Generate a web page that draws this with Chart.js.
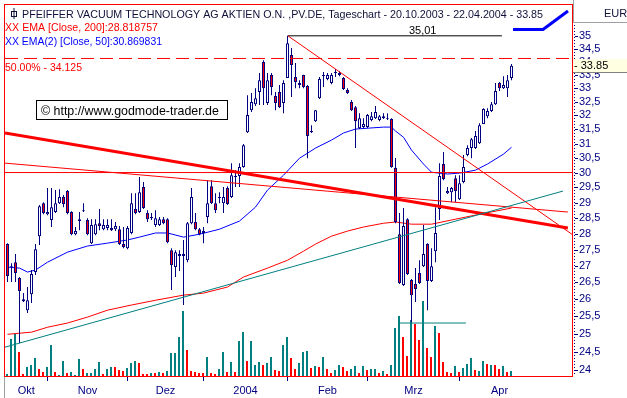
<!DOCTYPE html>
<html lang="de">

<head>
    <meta charset="UTF-8">
    <title>Pfeiffer Vacuum - Tageschart</title>
    <script src="https://cdn.jsdelivr.net/npm/chart.js"></script>
    <style>
        html, body {
            margin: 0;
            padding: 0;
            background: #fff;
        }
        canvas {
            display: block;
        }
    </style>
</head>

<body>
    <canvas id="chart" width="627" height="398"></canvas>

    <script>
        // one entry per trading day, index 0 = 20.10.2003
        const opens = [27.67, 26.96, 27.11, 26.63, 25.94, 25.68, 26.15, 26.81, 27.92, 28.98,
            28.62, 28.43, 28.69, 28.98, 29.18, 29.38, 28.69, 27.98, 28.40, 28.72,
            28.43, 27.70, 27.98, 28.33, 28.14, 28.18, 28.18, 28.14, 28.14, 27.67,
            27.54, 28.02, 28.79, 28.69, 29.51, 28.66, 28.49, 28.27, 28.27, 28.46,
            28.46, 27.48, 26.96, 27.36, 27.30, 27.17, 28.33, 28.37, 28.14, 28.02,
            28.53, 29.54, 28.98, 29.15, 28.98, 29.48, 29.18, 29.85, 29.88, 30.19,
            31.40, 32.19, 32.41, 32.86, 33.99, 32.45, 33.49, 32.71, 32.86, 32.45,
            33.38, 34.26, 33.42, 33.12, 33.49, 33.08, 31.40, 31.79, 32.63, 33.45,
            33.34, 33.19, 33.57, 33.49, 33.38, 32.93, 32.49, 32.30, 31.54, 31.58,
            31.58, 31.83, 31.90, 31.83, 31.90, 31.87, 31.87, 30.16, 27.98, 26.42,
            28.46, 26.57, 26.45, 26.78, 26.99, 27.67, 26.54, 27.45, 28.79, 30.29,
            29.31, 29.34, 29.81, 29.11, 29.68, 30.60, 30.84, 30.84, 31.01, 31.69,
            31.97, 32.16, 32.41, 33.19, 33.00, 33.00, 33.38];
        const highs = [27.70, 27.08, 27.36, 26.66, 26.18, 26.36, 26.87, 27.67, 28.92, 29.01,
            29.48, 29.48, 29.41, 29.44, 29.25, 29.41, 28.72, 28.21, 28.69, 28.98,
            28.49, 28.46, 28.46, 28.79, 28.46, 28.46, 28.46, 28.37, 28.24, 28.21,
            28.24, 29.31, 29.31, 29.85, 29.68, 28.75, 28.66, 28.75, 28.53, 28.53,
            28.49, 27.54, 27.48, 27.48, 27.80, 28.37, 29.48, 28.66, 28.18, 28.21,
            29.74, 29.74, 29.31, 29.34, 29.51, 29.54, 30.32, 30.08, 30.32, 30.98,
            32.74, 32.82, 33.00, 33.57, 34.06, 33.57, 33.57, 32.86, 33.12, 33.30,
            35.01, 34.53, 33.95, 33.30, 33.50, 33.12, 31.65, 32.20, 33.42, 33.61,
            33.57, 33.57, 33.72, 33.65, 33.42, 33.00, 32.56, 32.34, 32.08, 31.90,
            32.05, 32.12, 32.34, 32.01, 32.08, 32.08, 31.90, 30.50, 28.66, 28.82,
            28.49, 26.60, 26.93, 27.17, 28.27, 27.70, 27.54, 28.85, 30.32, 30.70,
            29.51, 29.51, 29.91, 29.91, 30.60, 30.94, 31.19, 31.44, 31.72, 32.26,
            32.26, 32.49, 33.19, 33.23, 33.45, 33.49, 33.91];
        const lows = [26.51, 26.51, 26.51, 24.74, 25.92, 25.60, 25.89, 26.72, 27.64, 28.62,
            28.59, 28.21, 28.66, 28.95, 28.85, 28.62, 27.95, 27.95, 28.11, 28.69,
            27.95, 27.67, 27.95, 28.11, 28.11, 28.11, 28.08, 28.08, 27.64, 27.54,
            27.51, 27.98, 28.62, 28.66, 28.79, 28.37, 28.43, 28.21, 28.24, 28.30,
            27.70, 26.27, 26.66, 26.84, 25.83, 27.11, 28.30, 28.11, 27.95, 27.70,
            28.33, 28.95, 28.66, 28.98, 28.66, 28.92, 29.15, 29.51, 29.51, 30.16,
            31.37, 32.12, 32.34, 32.38, 32.38, 32.38, 32.74, 32.19, 32.27, 32.08,
            33.38, 32.67, 33.00, 33.00, 33.00, 30.49, 31.37, 31.76, 32.60, 33.04,
            33.30, 33.15, 33.42, 33.45, 32.93, 32.78, 32.16, 30.84, 31.51, 31.54,
            31.54, 31.79, 31.87, 31.79, 31.87, 31.83, 30.16, 28.33, 26.45, 26.39,
            26.72, 25.32, 25.92, 26.45, 26.96, 25.68, 26.51, 27.11, 28.43, 29.74,
            29.28, 29.01, 29.01, 29.08, 29.64, 30.56, 30.49, 30.81, 30.98, 31.69,
            31.90, 32.12, 32.38, 32.89, 32.97, 32.67, 33.30];
        const closes = [26.69, 26.99, 26.78, 26.24, 26.00, 25.97, 26.75, 27.51, 28.88, 28.66,
            28.69, 28.85, 28.98, 29.18, 28.95, 28.66, 27.98, 28.08, 28.46, 28.75,
            27.98, 28.27, 28.30, 28.24, 28.27, 28.27, 28.11, 28.24, 27.67, 27.58,
            28.18, 28.98, 28.66, 29.34, 28.82, 28.46, 28.53, 28.49, 28.46, 28.33,
            27.73, 27.02, 27.42, 27.30, 27.36, 28.33, 29.18, 28.14, 27.98, 28.08,
            28.98, 28.98, 28.75, 29.18, 29.18, 28.95, 29.91, 29.88, 30.19, 30.94,
            32.01, 32.49, 32.63, 33.30, 33.00, 33.30, 33.04, 32.45, 32.30, 33.19,
            34.72, 33.87, 33.23, 33.19, 33.04, 31.26, 31.44, 32.19, 33.34, 33.49,
            33.49, 33.49, 33.61, 33.57, 32.97, 32.82, 32.19, 31.79, 31.90, 31.69,
            32.01, 31.97, 32.12, 31.97, 31.97, 31.90, 30.19, 28.37, 26.48, 28.24,
            26.75, 26.12, 26.30, 26.48, 27.36, 26.54, 26.99, 28.02, 29.88, 29.78,
            29.38, 29.48, 29.38, 29.64, 30.19, 30.84, 31.15, 31.26, 31.65, 32.23,
            32.16, 32.41, 32.89, 33.00, 33.12, 33.30, 33.85];

        // volume in relative units (no scale shown), 1 = teal bar, 0 = red bar
        const volumes = [2, 37, 42, 24, 2, 9, 11, 18, 7, 4,
            9, 31, 4, 1, 15, 3, 4, 1, 17, 7,
            3, 3, 7, 14, 2, 7, 9, 9, 6, 5,
            8, 13, 15, 13, 2, 2, 3, 3, 4, 3,
            5, 23, 23, 39, 65, 26, 5, 4, 3, 3,
            19, 3, 2, 7, 24, 4, 14, 4, 35, 44,
            15, 35, 11, 14, 11, 13, 19, 6, 5, 31,
            39, 18, 7, 13, 24, 25, 8, 10, 9, 19,
            7, 3, 6, 11, 9, 5, 7, 10, 3, 10,
            6, 7, 7, 3, 5, 2, 11, 48, 60, 39,
            20, 56, 52, 36, 75, 28, 19, 50, 43, 14,
            4, 3, 10, 4, 8, 12, 18, 6, 5, 15,
            12, 11, 11, 7, 10, 4, 5];
        const volumeUp = [1, 1, 1, 0, 0, 1, 1, 1, 0, 0,
            1, 1, 0, 1, 1, 0, 1, 1, 1, 0,
            1, 1, 1, 1, 0, 1, 1, 0, 0, 0,
            1, 1, 1, 0, 0, 0, 1, 0, 1, 0,
            1, 1, 1, 1, 1, 0, 0, 0, 0, 0,
            1, 0, 0, 1, 1, 0, 1, 0, 1, 1,
            0, 1, 1, 1, 0, 1, 1, 0, 0, 1,
            1, 0, 0, 1, 1, 1, 0, 1, 0, 1,
            0, 0, 1, 1, 0, 0, 1, 1, 0, 1,
            0, 1, 1, 0, 1, 0, 1, 1, 1, 0,
            0, 1, 0, 0, 1, 0, 0, 1, 0, 0,
            0, 0, 1, 0, 1, 1, 1, 0, 1, 1,
            0, 1, 0, 0, 1, 0, 1];

        // moving averages at a few days
        const ema200Idx = [0, 3, 6, 10, 15, 20, 25, 31, 37, 44, 49, 55, 59, 65, 70, 74, 77, 81, 85, 89, 94, 97, 101, 106, 112, 118, 126];
        const ema200Val = [24.99, 25.02, 25.05, 25.19, 25.31, 25.48, 25.68, 25.83, 25.97, 26.12, 26.18, 26.36, 26.66, 26.93,
            27.17, 27.45, 27.67, 27.92, 28.08, 28.21, 28.33, 28.37, 28.30, 28.30, 28.46, 28.62, 28.82];
        const ema50Idx = [0, 3, 5, 7, 10, 15, 20, 25, 30, 33, 37, 40, 44, 48, 53, 58, 62, 65, 69, 73,
            77, 81, 84, 87, 90, 94, 96, 97, 99, 101, 104, 106, 110, 113, 117, 120, 124, 126];
        const ema50Val = [26.96, 26.93, 26.81, 26.87, 27.11, 27.42, 27.61, 27.70, 27.80, 27.89,
            28.02, 28.02, 27.89, 27.98, 28.14, 28.40, 28.85, 29.41, 29.91, 30.49,
            30.84, 31.12, 31.37, 31.51, 31.54, 31.58, 31.58, 31.44, 31.22, 30.77,
            30.29, 30.01, 29.95, 29.98, 30.08, 30.29, 30.63, 30.87];

        // drawn lines: [day, price] end points
        const tealTrend = [[-0.625, 24.63], [138.9, 29.38]];
        const thickRedTrend = [[-0.625, 31.37], [140.1, 28.18]];
        const thinRedTrend = [[-0.625, 30.32], [140.1, 28.69]];
        const downTrend = [[70.1, 35.01], [141.1, 27.98]];
        const line30 = [[-0.625, 30], [141.125, 30]];
        const line50pct = [[-0.625, 34.125], [141.125, 34.125]];
        const highLine = [[70.1, 35.01], [123.6, 35.01]];
        const lowLine = [[98.1, 25.31], [114.6, 25.31]];

        const monthTicks = [10, 30, 49, 70, 90, 113];
        const monthLabelPos = [4.7, 20, 39.5, 59.5, 80, 101.5, 123];
        const monthLabels = ['Okt', 'Nov', 'Dez', '2004', 'Feb', 'Mrz', 'Apr'];
        const priceTicks = [35, 34.5, 34, 33.5, 33, 32.5, 32, 31.5, 31, 30.5, 30, 29.5, 29, 28.5, 28, 27.5, 27, 26.5, 26, 25.5, 25, 24.5, 24];

        const xMin = -0.625;
        const xMax = 141.125;
        const yMin = 23.84;
        const yMax = 36.25;

        const navy = '#000080';
        const red = '#ff0000';
        const teal = '#008080';
        const font = '"Liberation Sans", Arial, sans-serif';

        function lineSet(points, color, width, order, dash) {
            return {
                type: 'line',
                data: points.map(p => ({ x: p[0], y: p[1] })),
                borderColor: color,
                borderWidth: width,
                borderDash: dash || [],
                pointRadius: 0,
                fill: false,
                tension: 0,
                order: order
            };
        }

        const decor = {
            id: 'decor',
            beforeDraw(chart) {
                const ctx = chart.ctx;
                ctx.save();
                ctx.fillStyle = '#fff';
                ctx.fillRect(0, 0, chart.width, chart.height);
                ctx.restore();
            },
            afterDraw(chart) {
                const { ctx, chartArea: a, scales } = chart;
                const x = scales.x, y = scales.y;
                ctx.save();

                // axis labels end where the price area ends
                ctx.fillStyle = '#fff';
                ctx.fillRect(a.right + 1, a.bottom - 3, chart.width - a.right, 30);

                // frames
                ctx.strokeStyle = '#a0a0a0';
                ctx.lineWidth = 1;
                ctx.beginPath();
                ctx.moveTo(a.right + 1.5, 0);
                ctx.lineTo(a.right + 1.5, 22.5);
                ctx.lineTo(chart.width, 22.5);
                ctx.moveTo(a.left - 0.5, a.bottom);
                ctx.lineTo(a.left - 0.5, chart.height);
                ctx.stroke();

                ctx.strokeStyle = red;
                ctx.strokeRect(a.left - 0.5, a.top - 0.5, a.right - a.left + 1, a.bottom - a.top + 1);

                // dotted price axis with small tick dashes
                ctx.strokeStyle = navy;
                ctx.setLineDash([1, 2]);
                ctx.beginPath();
                ctx.moveTo(a.right + 2.5, 25);
                ctx.lineTo(a.right + 2.5, a.bottom - 1);
                ctx.stroke();
                ctx.setLineDash([]);
                ctx.beginPath();
                priceTicks.forEach(v => {
                    const py = Math.round(y.getPixelForValue(v)) + 0.5;
                    if (py < a.bottom - 3) {
                        ctx.moveTo(a.right + 3, py);
                        ctx.lineTo(a.right + 6, py);
                    }
                });
                ctx.stroke();

                // last price marker
                const last = closes[closes.length - 1];
                const ly = y.getPixelForValue(last);
                ctx.fillStyle = '#ffffe1';
                ctx.fillRect(a.right + 1, ly - 6.5, chart.width - a.right, 13);
                ctx.strokeStyle = '#808080';
                ctx.beginPath();
                ctx.moveTo(a.right + 1, Math.round(ly + 6.5) + 0.5);
                ctx.lineTo(chart.width, Math.round(ly + 6.5) + 0.5);
                ctx.stroke();
                ctx.fillStyle = '#000';
                ctx.font = '11px ' + font;
                ctx.textBaseline = 'middle';
                ctx.fillText('- ' + last.toFixed(2), a.right + 2, ly + 0.5);

                ctx.textBaseline = 'alphabetic';
                ctx.fillStyle = '#10103a';
                ctx.fillText('EUR', 604, 17);

                // header
                ctx.strokeStyle = '#10103a';
                ctx.strokeRect(11.5, 11.5, 5, 5);
                ctx.beginPath();
                ctx.moveTo(14, 8);
                ctx.lineTo(14, 19);
                ctx.stroke();
                ctx.font = '11px ' + font;
                ctx.fillText('PFEIFFER VACUUM TECHNOLOGY AG AKTIEN O.N. ,PV.DE, Tageschart - 20.10.2003 - 22.04.2004 - 33.85', 22, 18, 521);
                ctx.fillStyle = red;
                ctx.fillText('XX EMA [Close, 200]:28.818757', 5, 31, 153);
                ctx.fillStyle = '#0000ff';
                ctx.fillText('XX EMA(2) [Close, 50]:30.869831', 5, 45, 157);
                ctx.fillStyle = red;
                ctx.fillText('50.00% - 34.125', 5, 71, 77);

                ctx.fillStyle = '#000';
                ctx.textAlign = 'center';
                ctx.fillText('35,01', x.getPixelForValue(103.8), y.getPixelForValue(35.01) - 2);
                ctx.textAlign = 'left';

                // copyright box
                ctx.fillStyle = '#fff';
                ctx.fillRect(36, 100, 191, 19);
                ctx.strokeStyle = '#000';
                ctx.strokeRect(36.5, 100.5, 191, 19);
                ctx.fillStyle = '#000';
                ctx.font = '12.4px ' + font;
                ctx.fillText('\u00a9 http://www.godmode-trader.de', 41, 115);

                // trend symbol top right
                ctx.strokeStyle = '#0000ff';
                ctx.lineWidth = 3;
                ctx.lineJoin = 'round';
                ctx.beginPath();
                ctx.moveTo(513, 29.5);
                ctx.lineTo(543, 29.5);
                ctx.lineTo(568, 11);
                ctx.stroke();

                ctx.restore();
            }
        };

        const chart = new Chart(document.getElementById('chart'), {
            type: 'bar',
            data: {
                datasets: [
                    lineSet(tealTrend, teal, 1, 0),
                    lineSet(thickRedTrend, red, 3, 0),
                    lineSet(thinRedTrend, red, 1, 0),
                    lineSet(downTrend, red, 1, 0),
                    lineSet(line30, red, 1, 0),
                    lineSet(line50pct, red, 1, 0, [13, 6]),
                    lineSet(highLine, '#000', 1, 0),
                    lineSet(lowLine, teal, 1, 0),
                    {
                        type: 'bar',
                        data: opens.map((o, i) => ({ x: i, y: [Math.min(o, closes[i]), Math.max(o, closes[i])] })),
                        backgroundColor: opens.map((o, i) => closes[i] < o ? red : '#fff'),
                        borderColor: navy,
                        borderWidth: 1,
                        borderSkipped: false,
                        barThickness: 3,
                        inflateAmount: 0,
                        grouped: false,
                        order: 1
                    },
                    {
                        type: 'bar',
                        data: lows.map((l, i) => ({ x: i, y: [l, highs[i]] })),
                        backgroundColor: navy,
                        borderWidth: 0,
                        barThickness: 1,
                        inflateAmount: 0,
                        grouped: false,
                        order: 2
                    },
                    lineSet(ema50Idx.map((d, i) => [d, ema50Val[i]]), '#0000ff', 1, 3),
                    lineSet(ema200Idx.map((d, i) => [d, ema200Val[i]]), red, 1, 3),
                    {
                        type: 'bar',
                        data: volumes.map((v, i) => ({ x: i, y: v })),
                        xAxisID: 'xv',
                        yAxisID: 'yv',
                        backgroundColor: volumeUp.map(u => u ? teal : red),
                        borderWidth: 0,
                        barThickness: 2,
                        inflateAmount: 0,
                        grouped: false,
                        order: 4
                    }
                ]
            },
            options: {
                responsive: false,
                animation: false,
                devicePixelRatio: 1,
                layout: { padding: { top: 5, left: 5 } },
                plugins: {
                    legend: { display: false },
                    tooltip: { enabled: false }
                },
                events: [],
                scales: {
                    x: {
                        type: 'linear',
                        min: xMin,
                        max: xMax,
                        bounds: 'data',
                        offset: false,
                        afterFit(s) {
                            s.height = 22;
                            s.paddingLeft = 0;
                            s.paddingRight = 0;
                        },
                        afterBuildTicks(s) {
                            s.ticks = monthTicks.concat(monthLabelPos).sort((p, q) => p - q).map(v => ({ value: v }));
                        },
                        grid: {
                            offset: false,
                            drawOnChartArea: false,
                            tickLength: 5,
                            tickColor: c => (c.tick && monthTicks.includes(c.tick.value)) ? navy : 'rgba(0,0,0,0)'
                        },
                        border: { display: false },
                        ticks: {
                            autoSkip: false,
                            maxRotation: 0,
                            padding: 3,
                            color: navy,
                            font: { family: font, size: 11 },
                            callback: v => {
                                const i = monthLabelPos.indexOf(v);
                                return i < 0 ? '' : monthLabels[i];
                            }
                        }
                    },
                    xv: {
                        type: 'linear',
                        display: false,
                        min: xMin + 0.125,
                        max: xMax + 0.125,
                        bounds: 'data',
                        offset: false
                    },
                    y: {
                        type: 'logarithmic',
                        position: 'right',
                        min: yMin,
                        max: yMax,
                        bounds: 'data',
                        afterFit(s) {
                            s.width = 55;
                            s.paddingTop = 0;
                            s.paddingBottom = 0;
                        },
                        afterBuildTicks(s) {
                            s.ticks = priceTicks.map(v => ({ value: v }));
                        },
                        grid: { drawOnChartArea: false, drawTicks: false },
                        border: { display: false },
                        ticks: {
                            autoSkip: false,
                            padding: 7,
                            color: navy,
                            font: { family: font, size: 11 },
                            callback: v => String(v).replace('.', ',')
                        }
                    },
                    yv: {
                        type: 'linear',
                        display: false,
                        min: 0,
                        max: 371
                    }
                }
            },
            plugins: [decor]
        });
    </script>
</body>

</html>
